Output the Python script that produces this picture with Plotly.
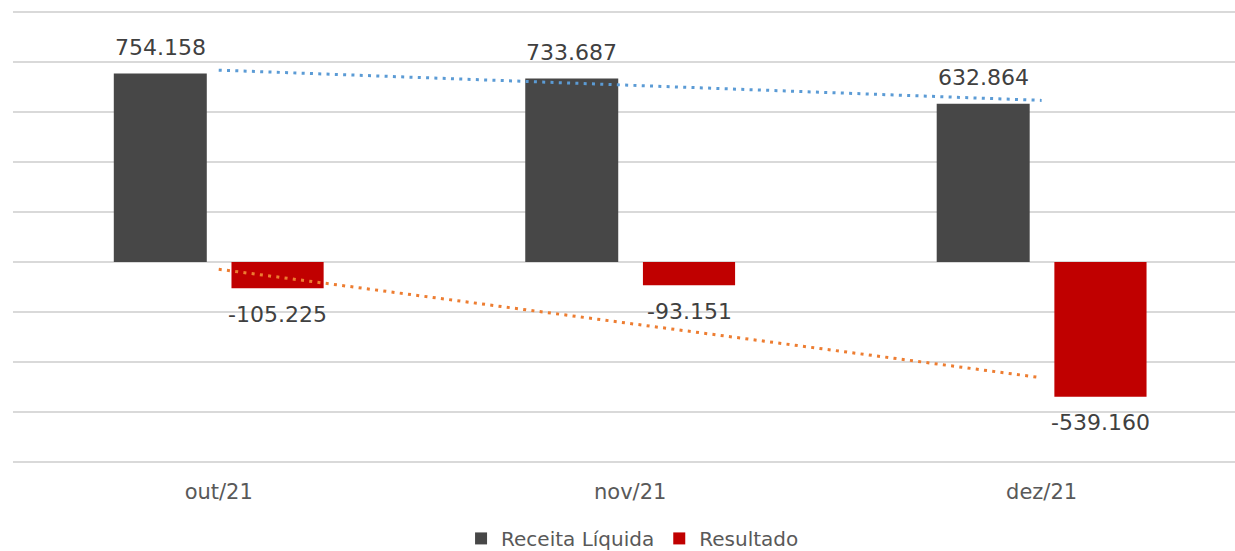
import plotly.graph_objects as go

categories = ["out/21", "nov/21", "dez/21"]
receita = [754158, 733687, 632864]
resultado = [-105225, -93151, -539160]
receita_labels = ["754.158", "733.687", "632.864"]
resultado_labels = ["-105.225", "-93.151", "-539.160"]
# linear trendline endpoints (first and last month)
trend_x = ["out/21", "dez/21"]
trend_receita = [767500, 646500]
trend_resultado = [-29000, -463000]

FONT = "DejaVu Sans"
GREY = "#474747"
RED = "#c00000"

W_REC, OFF_REC = 0.226, -0.255
W_RES, OFF_RES = 0.224, 0.031

fig = go.Figure()
fig.add_trace(go.Bar(
    x=categories, y=receita, name="Receita Líquida",
    marker=dict(color=GREY, line=dict(width=0)),
    width=W_REC, offset=OFF_REC,
))
fig.add_trace(go.Bar(
    x=categories, y=resultado, name="Resultado",
    marker=dict(color=RED, line=dict(width=0)),
    width=W_RES, offset=OFF_RES,
))
fig.add_trace(go.Scatter(
    x=trend_x, y=trend_receita, mode="lines", showlegend=False,
    line=dict(color="#5b9bd5", width=3, dash="3px,5.3px"), hoverinfo="skip",
))
fig.add_trace(go.Scatter(
    x=trend_x, y=trend_resultado, mode="lines", showlegend=False,
    line=dict(color="#ed7d31", width=3, dash="3px,5.3px"), hoverinfo="skip",
))

annotations = []
for i, (v, t) in enumerate(zip(receita, receita_labels)):
    annotations.append(dict(
        x=i + OFF_REC + W_REC / 2, y=v, xref="x", yref="y", text=t,
        showarrow=False, yanchor="middle", yshift=26,
        font=dict(family=FONT, size=22, color="#404040"),
    ))
for i, (v, t) in enumerate(zip(resultado, resultado_labels)):
    annotations.append(dict(
        x=i + OFF_RES + W_RES / 2, y=v, xref="x", yref="y", text=t,
        showarrow=False, yanchor="middle", yshift=-26,
        font=dict(family=FONT, size=22, color="#404040"),
    ))

fig.update_layout(
    width=1235, height=551,
    margin=dict(l=13, r=0, t=9, b=86, autoexpand=False),
    paper_bgcolor="white", plot_bgcolor="white",
    barmode="overlay",
    font=dict(family=FONT, color="#595959"),
    annotations=annotations,
    legend=dict(
        orientation="h", x=0.507, xanchor="center", y=-0.161, yanchor="middle",
        font=dict(family=FONT, size=20, color="#595959"),
        itemwidth=30, traceorder="normal",
    ),
    xaxis=dict(
        type="category", range=[-0.5, 2.47],
        showgrid=False, showline=False, zeroline=False,
        ticks="", ticklabelstandoff=12,
        tickfont=dict(family=FONT, size=21, color="#595959"),
    ),
    yaxis=dict(
        range=[-812000, 1012000], dtick=200000, tick0=0,
        showgrid=True, gridcolor="#d9d9d9", gridwidth=1.6,
        zeroline=True, zerolinecolor="#d9d9d9", zerolinewidth=1.6,
        showticklabels=False, ticks="", showline=False,
    ),
    showlegend=True,
)

fig.write_html(
    "out.html",
    config={"displayModeBar": False},
    post_script="document.body.style.margin='0';document.body.style.padding='0';",
)
